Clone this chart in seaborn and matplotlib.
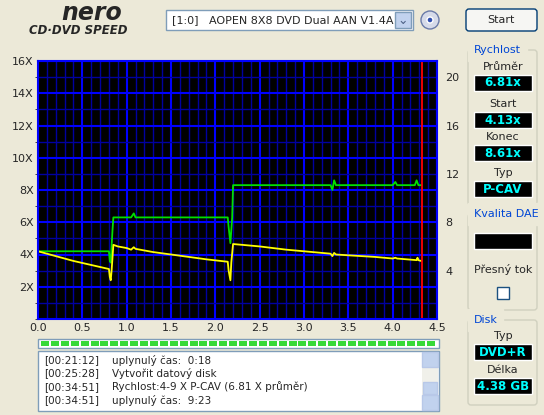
import matplotlib
matplotlib.use("Agg")
import matplotlib.pyplot as plt
import seaborn as sns
import numpy as np
import pandas as pd
from matplotlib.patches import Rectangle, FancyBboxPatch

# ---- data ----
yellow_x = [0.0, 0.2, 0.4, 0.6, 0.80, 0.81, 0.82, 0.83, 0.85, 0.9, 1.0, 1.05, 1.08, 1.1, 1.3, 1.5, 1.7, 1.9, 2.14, 2.15, 2.17, 2.18, 2.20, 2.3, 2.5, 2.8, 3.0, 3.3, 3.32, 3.34, 3.36, 3.5, 3.8, 4.0, 4.03, 4.05, 4.27, 4.28, 4.29, 4.32]
yellow_y = [4.2, 3.9, 3.6, 3.35, 3.1, 2.6, 2.4, 3.0, 4.6, 4.5, 4.4, 4.3, 4.45, 4.35, 4.15, 4.0, 3.85, 3.7, 3.55, 3.0, 2.4, 3.5, 4.65, 4.6, 4.5, 4.3, 4.2, 4.05, 3.9, 4.1, 4.0, 3.95, 3.85, 3.75, 3.8, 3.75, 3.65, 3.8, 3.65, 3.6]
green_x = [0.0, 0.80, 0.81, 0.82, 0.84, 0.85, 1.05, 1.08, 1.1, 2.14, 2.15, 2.17, 2.19, 2.20, 3.3, 3.32, 3.34, 3.36, 4.0, 4.03, 4.05, 4.25, 4.27, 4.29, 4.32]
green_y = [4.2, 4.2, 3.6, 3.5, 5.5, 6.3, 6.3, 6.55, 6.3, 6.3, 5.7, 4.7, 6.3, 8.3, 8.3, 8.0, 8.6, 8.3, 8.3, 8.5, 8.3, 8.3, 8.6, 8.3, 8.3]
x_ticks = [0.0, 0.5, 1.0, 1.5, 2.0, 2.5, 3.0, 3.5, 4.0, 4.5]
y_ticks = [2, 4, 6, 8, 10, 12, 14, 16]
y2_ticks = [4, 8, 12, 16, 20]
log_times = ["[00:21:12]", "[00:25:28]", "[00:34:51]", "[00:34:51]"]
log_msgs = ["uplynulý čas:  0:18", "Vytvořit datový disk", "Rychlost:4-9 X P-CAV (6.81 X průměr)", "uplynulý čas:  9:23"]

sns.set_style("white")
plt.rcParams['font.family'] = ['DejaVu Sans']
BG = "#ece9d8"
fig = plt.figure(figsize=(5.44, 4.15), dpi=100, facecolor=BG)
W, H = 544, 415
def fx(x): return x / W
def fy(y): return 1 - y / H

ax = fig.add_axes([fx(38), fy(319), 399 / W, 258 / H])
ax.set_facecolor("black")
df_y = pd.DataFrame({"x": yellow_x, "y": yellow_y})
df_g = pd.DataFrame({"x": green_x, "y": green_y})
ax.set_xlim(0, 4.5); ax.set_ylim(0, 16)
ax.set_xticks(np.arange(0, 4.51, 0.1), minor=True)
ax.set_yticks(np.arange(0, 16.1, 1), minor=True)
ax.set_xticks(x_ticks)
ax.set_yticks(y_ticks)
ax.grid(which="minor", color="#0000a0", lw=1)
ax.grid(which="major", color="#0000ff", lw=1.5)
ax.set_axisbelow(True)
sns.lineplot(data=df_g, x="x", y="y", ax=ax, color="#00e000", lw=1.3, sort=False)
sns.lineplot(data=df_y, x="x", y="y", ax=ax, color="#ffff00", lw=1.3, sort=False)
ax.axvline(4.33, color="red", lw=1.3)
ax.set_xlabel(""); ax.set_ylabel("")
ax.set_xticklabels([f"{t:.1f}" for t in x_ticks], fontsize=8)
ax.set_yticklabels([f"{t}X" for t in y_ticks], fontsize=8)
ax.tick_params(length=0, pad=3)
for s in ax.spines.values():
    s.set_color("#0000ff"); s.set_linewidth(1.5)
ax2 = ax.twinx()
ax2.set_ylim(0, 16 * 4 / 3)
ax2.set_yticks(y2_ticks)
ax2.set_yticklabels([str(t) for t in y2_ticks], fontsize=8)
ax2.tick_params(length=0, pad=6)
for s in ax2.spines.values():
    s.set_visible(False)

# ---- UI chrome ----
top = fig.add_axes([0, 0, 1, 1]); top.set_xlim(0, W); top.set_ylim(H, 0); top.axis("off"); top.patch.set_alpha(0)
top.text(92, 13, "nero", fontsize=17, fontweight="bold", ha="center", va="center", style="italic")
top.text(78, 31, "CD·DVD SPEED", fontsize=8.5, fontweight="bold", ha="center", va="center", style="italic")
top.add_patch(Rectangle((166, 10), 247, 20, fc="white", ec="#7f9db9"))
top.text(172, 20, "[1:0]   AOPEN 8X8 DVD Dual AAN V1.4A", fontsize=8, va="center")
top.add_patch(Rectangle((395, 12), 16, 16, fc="#c1d2ee", ec="#7f9db9"))
top.text(403, 20, "⌄", fontsize=9, ha="center", va="center", color="#4d6185")
top.add_patch(plt.Circle((430, 20), 9, fc="#d6dbe9", ec="#6a7ba8"))
top.add_patch(plt.Circle((430, 20), 3, fc="#3050b0"))
top.add_patch(FancyBboxPatch((466, 9), 71, 22, boxstyle="round,pad=0,rounding_size=3", fc="#f6f6f3", ec="#003c74"))
top.text(501, 20, "Start", fontsize=8, ha="center", va="center")

def group(y0, y1, title):
    top.add_patch(FancyBboxPatch((468, y0), 69, y1 - y0, boxstyle="round,pad=0,rounding_size=3", fc="none", ec="#d0d0bf"))
    top.text(474, y0, title, fontsize=8, color="#0046d5", va="center", backgroundcolor=BG)
group(50, 205, "Rychlost")
for lab, val, y in [("Průměr", "6.81x", 67), ("Start", "4.13x", 104), ("Konec", "8.61x", 137), ("Typ", "P-CAV", 173)]:
    top.text(503, y, lab, fontsize=8, ha="center", va="center")
    top.add_patch(Rectangle((474, y + 8), 58, 16, fc="black"))
    top.text(503, y + 16, val, fontsize=8.5, ha="center", va="center", color="#00ffff", fontweight="bold")
group(214, 310, "Kvalita DAE")
top.add_patch(Rectangle((474, 233), 58, 16, fc="black"))
top.text(503, 269, "Přesný tok", fontsize=8, ha="center", va="center")
top.add_patch(Rectangle((497, 287), 12, 12, fc="white", ec="#1c5180"))
group(320, 405, "Disk")
for lab, val, y in [("Typ", "DVD+R", 336), ("Délka", "4.38 GB", 370)]:
    top.text(503, y, lab, fontsize=8, ha="center", va="center")
    top.add_patch(Rectangle((474, y + 8), 58, 16, fc="black"))
    top.text(503, y + 16, val, fontsize=8.5, ha="center", va="center", color="#00ffff", fontweight="bold")

# progress bar
top.add_patch(Rectangle((38, 339), 401, 9, fc="white", ec="#7f9db9"))
for i in range(40):
    top.add_patch(Rectangle((41 + i * 9.9, 341), 8, 5, fc="#37d937", ec="none"))
# log
top.add_patch(Rectangle((38, 351), 401, 60, fc="white", ec="#7f9db9"))
for i, (t, m) in enumerate(zip(log_times, log_msgs)):
    y = 360 + i * 13.5
    top.text(44, y, t, fontsize=7.5, va="center")
    top.text(112, y, m, fontsize=7.5, va="center")
top.add_patch(Rectangle((422, 352), 16, 58, fc="#f0f0ea", ec="none"))
top.add_patch(Rectangle((422, 352), 16, 15, fc="#c1d2ee", ec="#b8c8e8"))
top.add_patch(Rectangle((422, 395), 16, 15, fc="#c1d2ee", ec="#b8c8e8"))
top.add_patch(Rectangle((423, 382), 14, 12, fc="#c1d2ee", ec="#b8c8e8"))

fig.savefig("out.png", dpi=100, facecolor=BG)
